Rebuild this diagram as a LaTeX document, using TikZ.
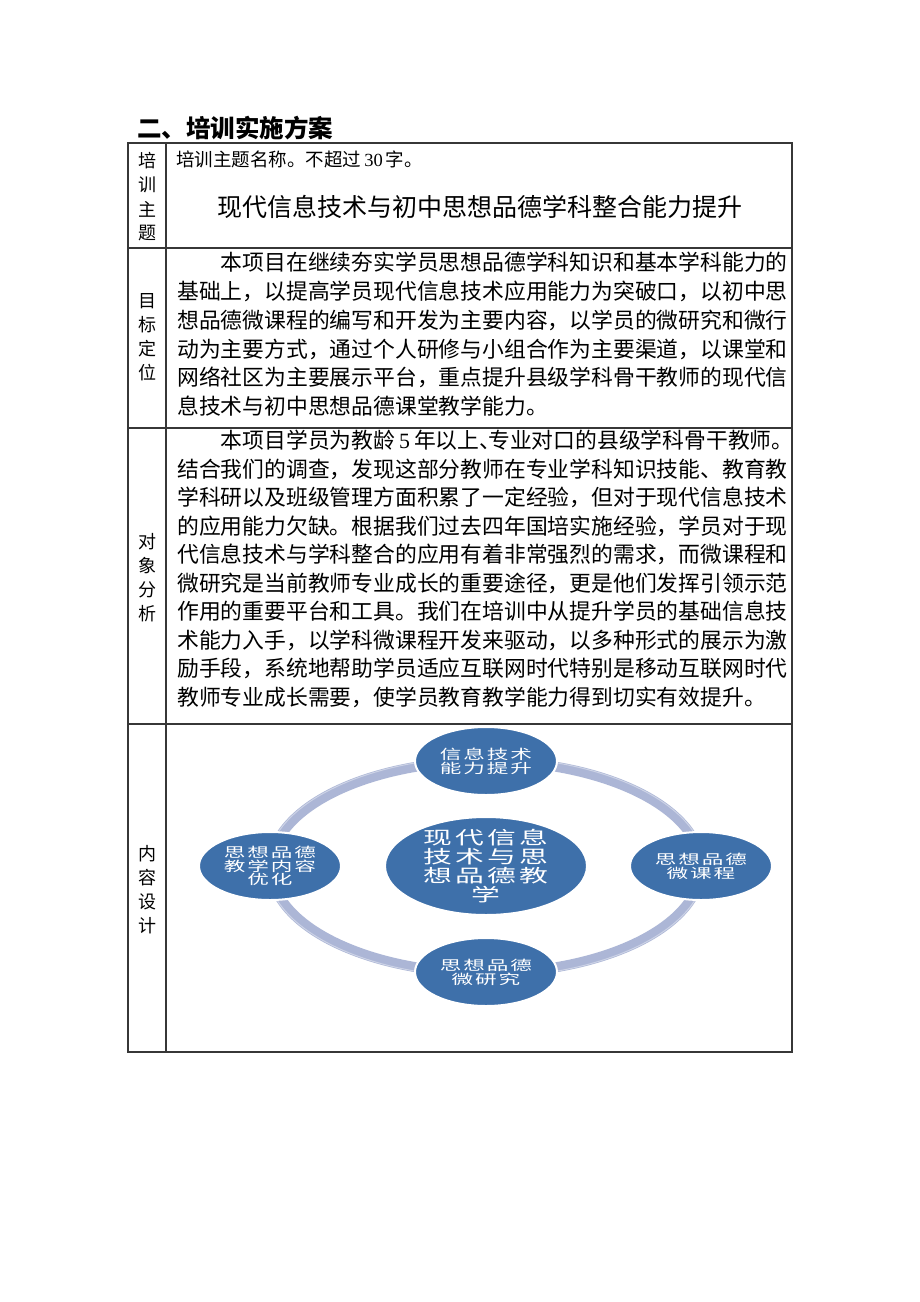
\documentclass[tikz,border=0pt]{standalone}
\usepackage{fontspec}
\usepackage{graphicx}
\setmainfont{Liberation Serif}
\newfontfamily\cjk{Noto Sans CJK SC}
\newfontfamily\numfont{Liberation Serif}
\usetikzlibrary{shapes.geometric}
\definecolor{nodeblue}{RGB}{62,112,170}
\definecolor{ringblue}{RGB}{172,182,214}
\definecolor{tline}{RGB}{55,55,55}
\makeatletter
\newcommand\wtext[3]{\def\wt@w{#1}\def\wt@s{#2}\wt@loop#3\relax}
\def\wt@loop#1{\ifx\relax#1\else\makebox[\wt@w][c]{\scalebox{\wt@s}[1]{#1}}\expandafter\wt@loop\fi}
\makeatother
\tikzset{
  body/.style={inner sep=0pt, anchor=west, font={\cjk\fontsize{21.8pt}{28pt}\selectfont}, text height=17.4pt, text depth=1.7pt},
  lab/.style={inner sep=0pt, font={\cjk\fontsize{18pt}{20pt}\selectfont}},
  tbl/.style={draw=tline, line width=1.1pt},
  smallnode/.style={ellipse, fill=nodeblue, draw=white, line width=2pt, minimum width=142pt, minimum height=68pt, inner sep=0pt},
  bignode/.style={ellipse, fill=nodeblue, draw=white, line width=2pt, minimum width=202pt, minimum height=98pt, inner sep=0pt},
  stext/.style={align=center, text=white, inner sep=0pt, font={\cjk\fontsize{13.5pt}{13.8pt}\selectfont}},
  btext/.style={align=center, text=white, inner sep=0pt, font={\cjk\fontsize{18pt}{18.7pt}\selectfont}},
}
\begin{document}
\begin{tikzpicture}[x=1pt, y=-1pt]
\fill[white] (0,0) rectangle (920,1302);
\useasboundingbox (0,0) rectangle (920,1302);

% title
\node[inner sep=0pt, anchor=west, font={\cjk\bfseries\fontsize{24.5pt}{26pt}\selectfont}] (title) at (137,128) {二、培训实施方案};

% table
\draw[tbl] (128,143) rectangle (792,1052);
\draw[tbl] (166,143) -- (166,1052);
\draw[tbl] (128,248) -- (792,248);
\draw[tbl] (128,428) -- (792,428);
\draw[tbl] (128,724) -- (792,724);

% left labels
\node[lab] (k1) at (147,161) {培};
\node[lab] (k2) at (147,185) {训};
\node[lab] (k3) at (147,209) {主};
\node[lab] (k4) at (147,233) {题};
\node[lab] (m1) at (147,301) {目};
\node[lab] (m2) at (147,325) {标};
\node[lab] (m3) at (147,349) {定};
\node[lab] (m4) at (147,373) {位};
\node[lab] (d1) at (147,542) {对};
\node[lab] (d2) at (147,566) {象};
\node[lab] (d3) at (147,590) {分};
\node[lab] (d4) at (147,614) {析};
\node[lab] (n1) at (147,854) {内};
\node[lab] (n2) at (147,878) {容};
\node[lab] (n3) at (147,902) {设};
\node[lab] (n4) at (147,926) {计};

% row 1
\node[inner sep=0pt, anchor=west, font={\cjk\fontsize{18.5pt}{20pt}\selectfont}] (r1a) at (176,159) {培训主题名称。不超过{\numfont\,30\,}字。};
\node[inner sep=0pt, font={\cjk\fontsize{25pt}{28pt}\selectfont}] (r1b) at (480,207) {现代信息技术与初中思想品德学科整合能力提升};

% row 2
\node[body] (a1) at (220.6,263) {本项目在继续夯实学员思想品德学科知识和基本学科能力的};
\node[body] (a2) at (177,292) {基础上，以提高学员现代信息技术应用能力为突破口，以初中思};
\node[body] (a3) at (177,320.5) {想品德微课程的编写和开发为主要内容，以学员的微研究和微行};
\node[body] (a4) at (177,349.5) {动为主要方式，通过个人研修与小组合作为主要渠道，以课堂和};
\node[body] (a5) at (177,378) {网络社区为主要展示平台，重点提升县级学科骨干教师的现代信};
\node[body] (a6) at (177,407) {息技术与初中思想品德课堂教学能力。};

% row 3
\node[body] (b1) at (220.6,441) {\makebox[569pt][s]{本项目学员为教龄\hskip 4pt{\numfont 5}\hskip 4pt{}年以上、\kern-0.6em{}专业对口的县级学科骨干教师。}};
\node[body] (b2) at (177,469.5) {结合我们的调查，发现这部分教师在专业学科知识技能、教育教};
\node[body] (b3) at (177,498) {学科研以及班级管理方面积累了一定经验，但对于现代信息技术};
\node[body] (b4) at (177,526.5) {的应用能力欠缺。根据我们过去四年国培实施经验，学员对于现};
\node[body] (b5) at (177,555) {代信息技术与学科整合的应用有着非常强烈的需求，而微课程和};
\node[body] (b6) at (177,583.5) {微研究是当前教师专业成长的重要途径，更是他们发挥引领示范};
\node[body] (b7) at (177,612) {作用的重要平台和工具。我们在培训中从提升学员的基础信息技};
\node[body] (b8) at (177,640.5) {术能力入手，以学科微课程开发来驱动，以多种形式的展示为激};
\node[body] (b9) at (177,669) {励手段，系统地帮助学员适应互联网时代特别是移动互联网时代};
\node[body] (b10) at (177,697.5) {教师专业成长需要，使学员教育教学能力得到切实有效提升。};

% diagram ring
\draw[ringblue, line width=10pt] (486,867) ellipse [x radius=215pt, y radius=106pt];
\draw[white, line width=1pt, opacity=0.4] (486,867) ellipse [x radius=219pt, y radius=110pt];

% diagram nodes
\node[smallnode] (top) at (486,761) {};
\node[smallnode] (left) at (270,866) {};
\node[smallnode] (right) at (701,866) {};
\node[smallnode] (bottom) at (486,972) {};
\node[bignode] (center) at (486,866) {};

\node[stext] (topt) at (top.center) {\wtext{23.5pt}{1.6}{信息技术}\\\wtext{23.5pt}{1.6}{能力提升}};
\node[stext] (leftt) at (left.center) {\wtext{23.5pt}{1.6}{思想品德}\\\wtext{23.5pt}{1.6}{教学内容}\\\wtext{23.5pt}{1.6}{优化}};
\node[stext] (rightt) at (right.center) {\wtext{23.5pt}{1.6}{思想品德}\\\wtext{23.5pt}{1.6}{微课程}};
\node[stext] (bottomt) at (bottom.center) {\wtext{23.5pt}{1.6}{思想品德}\\\wtext{23.5pt}{1.6}{微研究}};
\node[btext] (centert) at (center.center) {\wtext{32pt}{1.6}{现代信息}\\\wtext{32pt}{1.6}{技术与思}\\\wtext{32pt}{1.6}{想品德教}\\\wtext{32pt}{1.6}{学}};
\end{tikzpicture}
\end{document}
